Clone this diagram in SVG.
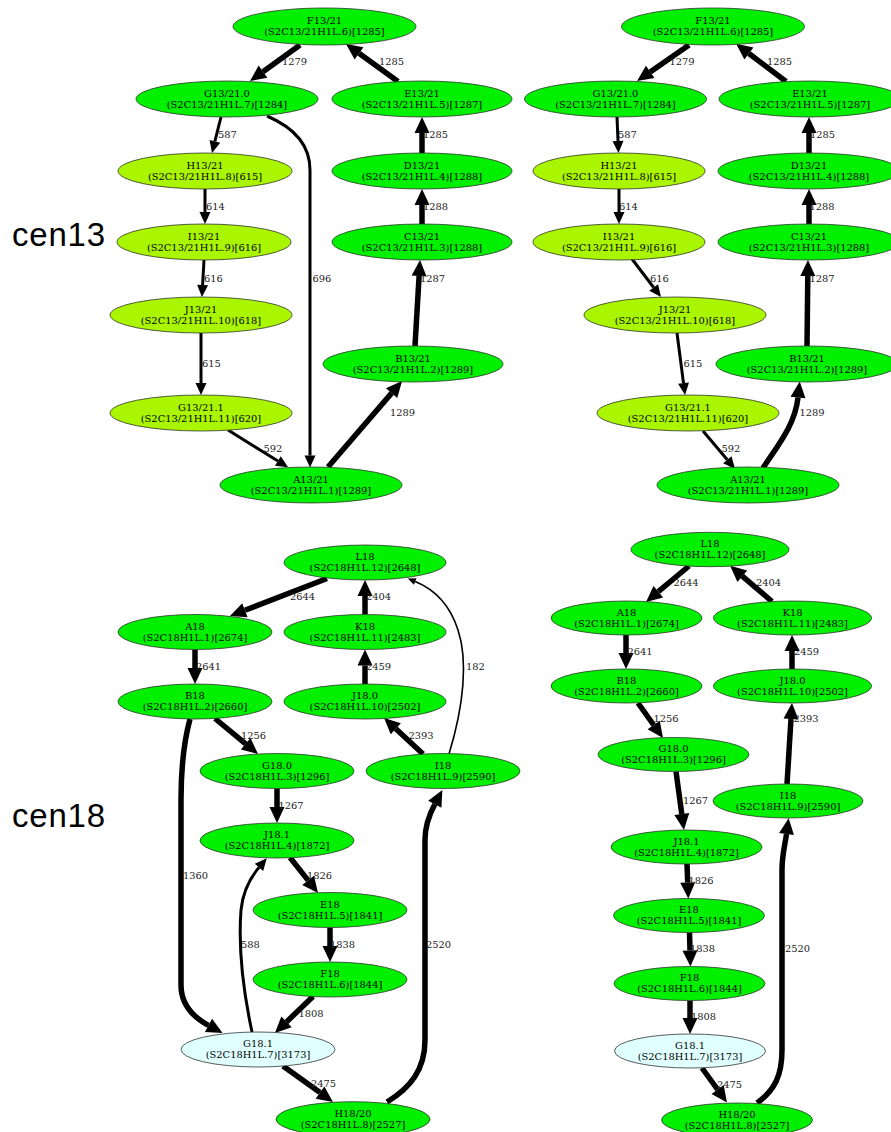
<svg xmlns="http://www.w3.org/2000/svg" width="891" height="1132" viewBox="0 0 891 1132">
  <style>
    .nd ellipse { stroke: #333; stroke-width: 0.8; }
    .g { fill: #00f000; }
    .y { fill: #aaf500; }
    .c { fill: #e0ffff; }
    .nd text { font-family: "DejaVu Serif", "Liberation Serif", serif; font-size: 9.9px; fill: #000; text-anchor: middle; }
    .e path { fill: none; stroke: #000; }
    .w5 { stroke-width: 5.5; marker-end: url(#ah-l); }
    .w3 { stroke-width: 3; marker-end: url(#ah-m); }
    .w1 { stroke-width: 1.6; marker-end: url(#ah-s); }
    .lbl text { font-family: "DejaVu Serif", "Liberation Serif", serif; font-size: 9.9px; fill: #222; }
    .title { font-family: "Liberation Sans", Arial, sans-serif; font-size: 33px; fill: #000; letter-spacing: 0.8px; }
  </style>
  <defs>
    <marker id="ah-l" markerUnits="userSpaceOnUse" viewBox="0 -8 16 16" markerWidth="16" markerHeight="16" refX="0" refY="0" orient="auto" overflow="visible">
      <path d="M0,-7.5 L16,0 L0,7.5 z" fill="#000"/>
    </marker>
    <marker id="ah-m" markerUnits="userSpaceOnUse" viewBox="0 -6 12 12" markerWidth="12" markerHeight="12" refX="0" refY="0" orient="auto" overflow="visible">
      <path d="M0,-5.5 L12,0 L0,5.5 z" fill="#000"/>
    </marker>
    <marker id="ah-s" markerUnits="userSpaceOnUse" viewBox="0 -4 8 8" markerWidth="8" markerHeight="8" refX="0" refY="0" orient="auto" overflow="visible">
      <path d="M0,-3.5 L8,0 L0,3.5 z" fill="#000"/>
    </marker>
  </defs>
  <rect width="891" height="1132" fill="#fff"/>

  <text class="title" x="12" y="246">cen13</text>
  <text class="title" x="12" y="827">cen18</text>

  <!-- ===== cen13, left layout: connectors ===== -->
  <g id="edges-13a" class="e">
    <path class="w5" d="M300,45 L263,71.7"/>
    <path class="w5" d="M398,81.5 L359,53.3"/>
    <path class="w3" d="M221,117 L214.9,141.4"/>
    <path class="w3" d="M205,189 L205,212"/>
    <path class="w3" d="M204,260 L202.6,285"/>
    <path class="w3" d="M201,333 L201,383"/>
    <path class="w3" d="M228,430 L277.9,461"/>
    <path class="w3" d="M267,116 C295,128 310,145 310,170 L310,455.5"/>
    <path class="w5" d="M328,467 L391.6,393.1"/>
    <path class="w5" d="M415,346 L419.1,276"/>
    <path class="w5" d="M422,224 L422,205"/>
    <path class="w5" d="M422,153 L422,133"/>
  </g>
  <g class="lbl">
    <text x="282" y="65">1279</text>
    <text x="379" y="65">1285</text>
    <text x="218" y="137.5">587</text>
    <text x="206" y="209.5">614</text>
    <text x="423" y="137.5">1285</text>
    <text x="423" y="209.5">1288</text>
    <text x="204" y="281.5">616</text>
    <text x="312.5" y="281.5">696</text>
    <text x="420" y="281.5">1287</text>
    <text x="202" y="367">615</text>
    <text x="390" y="416">1289</text>
    <text x="263.5" y="452">592</text>
  </g>
  <!-- ===== cen13, left layout: nodes ===== -->
  <g id="n13a-F" class="nd"><ellipse class="g" cx="324.5" cy="26.5" rx="91.5" ry="18.5"/><text x="324.5" y="24">F13/21</text><text x="324.5" y="35">(S2C13/21H1L.6)[1285]</text></g>
  <g id="n13a-G0" class="nd"><ellipse class="g" cx="227" cy="99" rx="91" ry="18"/><text x="227" y="96.5">G13/21.0</text><text x="227" y="107.5">(S2C13/21H1L.7)[1284]</text></g>
  <g id="n13a-E" class="nd"><ellipse class="g" cx="422" cy="99" rx="90" ry="18"/><text x="422" y="96.5">E13/21</text><text x="422" y="107.5">(S2C13/21H1L.5)[1287]</text></g>
  <g id="n13a-H" class="nd"><ellipse class="y" cx="205" cy="171" rx="87" ry="18"/><text x="205" y="168.5">H13/21</text><text x="205" y="179.5">(S2C13/21H1L.8)[615]</text></g>
  <g id="n13a-D" class="nd"><ellipse class="g" cx="422" cy="171" rx="90" ry="18"/><text x="422" y="168.5">D13/21</text><text x="422" y="179.5">(S2C13/21H1L.4)[1288]</text></g>
  <g id="n13a-I" class="nd"><ellipse class="y" cx="204" cy="242" rx="87" ry="18"/><text x="204" y="239.5">I13/21</text><text x="204" y="250.5">(S2C13/21H1L.9)[616]</text></g>
  <g id="n13a-C" class="nd"><ellipse class="g" cx="422" cy="242" rx="90" ry="18"/><text x="422" y="239.5">C13/21</text><text x="422" y="250.5">(S2C13/21H1L.3)[1288]</text></g>
  <g id="n13a-J" class="nd"><ellipse class="y" cx="201" cy="315" rx="91" ry="18"/><text x="201" y="312.5">J13/21</text><text x="201" y="323.5">(S2C13/21H1L.10)[618]</text></g>
  <g id="n13a-B" class="nd"><ellipse class="g" cx="413" cy="364" rx="90" ry="18"/><text x="413" y="361.5">B13/21</text><text x="413" y="372.5">(S2C13/21H1L.2)[1289]</text></g>
  <g id="n13a-G1" class="nd"><ellipse class="y" cx="201" cy="413" rx="91" ry="18"/><text x="201" y="410.5">G13/21.1</text><text x="201" y="421.5">(S2C13/21H1L.11)[620]</text></g>
  <g id="n13a-A" class="nd"><ellipse class="g" cx="311" cy="485" rx="91" ry="18"/><text x="311" y="482.5">A13/21</text><text x="311" y="493.5">(S2C13/21H1L.1)[1289]</text></g>

  <!-- ===== cen13, right layout: connectors ===== -->
  <g id="edges-13b" class="e">
    <path class="w5" d="M689,45 L650.2,71.9"/>
    <path class="w5" d="M786,81.5 L748.9,53.5"/>
    <path class="w3" d="M617,117 L618,141"/>
    <path class="w3" d="M619,189 L619,212"/>
    <path class="w3" d="M632,259 L653.7,287.5"/>
    <path class="w3" d="M677,333 L683.5,383.1"/>
    <path class="w3" d="M703,431 L727.3,459.8"/>
    <path class="w5" d="M763,468 C778,445 795,425 798,397.5"/>
    <path class="w5" d="M807,346 L807.8,276"/>
    <path class="w5" d="M809,224 L809,205"/>
    <path class="w5" d="M809,153 L809,133"/>
  </g>
  <g class="lbl">
    <text x="669.5" y="65">1279</text>
    <text x="767" y="65">1285</text>
    <text x="618" y="137.5">587</text>
    <text x="810" y="137.5">1285</text>
    <text x="619" y="209.5">614</text>
    <text x="809.5" y="209.5">1288</text>
    <text x="650" y="281.5">616</text>
    <text x="809.5" y="281.5">1287</text>
    <text x="683.5" y="367">615</text>
    <text x="799.5" y="416">1289</text>
    <text x="721.5" y="452">592</text>
  </g>
  <!-- ===== cen13, right layout: nodes ===== -->
  <g id="n13b-F" class="nd"><ellipse class="g" cx="713" cy="26.5" rx="91.5" ry="18.5"/><text x="713" y="24">F13/21</text><text x="713" y="35">(S2C13/21H1L.6)[1285]</text></g>
  <g id="n13b-G0" class="nd"><ellipse class="g" cx="615.5" cy="99" rx="91" ry="18"/><text x="615.5" y="96.5">G13/21.0</text><text x="615.5" y="107.5">(S2C13/21H1L.7)[1284]</text></g>
  <g id="n13b-E" class="nd"><ellipse class="g" cx="810" cy="99" rx="91" ry="18"/><text x="810" y="96.5">E13/21</text><text x="810" y="107.5">(S2C13/21H1L.5)[1287]</text></g>
  <g id="n13b-H" class="nd"><ellipse class="y" cx="619" cy="171" rx="86" ry="18"/><text x="619" y="168.5">H13/21</text><text x="619" y="179.5">(S2C13/21H1L.8)[615]</text></g>
  <g id="n13b-D" class="nd"><ellipse class="g" cx="809" cy="171" rx="91" ry="18"/><text x="809" y="168.5">D13/21</text><text x="809" y="179.5">(S2C13/21H1L.4)[1288]</text></g>
  <g id="n13b-I" class="nd"><ellipse class="y" cx="619" cy="242" rx="86" ry="18"/><text x="619" y="239.5">I13/21</text><text x="619" y="250.5">(S2C13/21H1L.9)[616]</text></g>
  <g id="n13b-C" class="nd"><ellipse class="g" cx="809" cy="242" rx="91" ry="18"/><text x="809" y="239.5">C13/21</text><text x="809" y="250.5">(S2C13/21H1L.3)[1288]</text></g>
  <g id="n13b-J" class="nd"><ellipse class="y" cx="675" cy="315" rx="91" ry="18"/><text x="675" y="312.5">J13/21</text><text x="675" y="323.5">(S2C13/21H1L.10)[618]</text></g>
  <g id="n13b-B" class="nd"><ellipse class="g" cx="807" cy="364" rx="91" ry="18"/><text x="807" y="361.5">B13/21</text><text x="807" y="372.5">(S2C13/21H1L.2)[1289]</text></g>
  <g id="n13b-G1" class="nd"><ellipse class="y" cx="688" cy="413" rx="91" ry="18"/><text x="688" y="410.5">G13/21.1</text><text x="688" y="421.5">(S2C13/21H1L.11)[620]</text></g>
  <g id="n13b-A" class="nd"><ellipse class="g" cx="748" cy="485" rx="91" ry="18"/><text x="748" y="482.5">A13/21</text><text x="748" y="493.5">(S2C13/21H1L.1)[1289]</text></g>

  <!-- ===== cen18, left layout: connectors ===== -->
  <g id="edges-18a" class="e">
    <path class="w5" d="M327,578.5 L244.9,610.3"/>
    <path class="w5" d="M365,614.5 L365,596"/>
    <path class="w5" d="M195,649.5 L195,668"/>
    <path class="w5" d="M365,684 L365,665.5"/>
    <path class="w5" d="M215,718.5 L245.7,743.8"/>
    <path class="w5" d="M423,754 L395.8,728.8"/>
    <path class="w1" d="M449,754 C464,705 468,660 458,630 C450,605 436,590 415.2,581.5"/>
    <path class="w5" d="M277,788.5 L277,807"/>
    <path class="w5" d="M190,719 C183,745 181,770 181,800 L181,985 C181,1005 193,1017 208.5,1025.4"/>
    <path class="w5" d="M290,857.5 L308.1,880.4"/>
    <path class="w3" d="M252,1032 C243,990 238,950 241,910 C243,890 250,878 259,867.4"/>
    <path class="w5" d="M330,927.5 L330,946"/>
    <path class="w5" d="M313,996.5 L286.5,1021.9"/>
    <path class="w5" d="M283,1066 L320,1092.6"/>
    <path class="w5" d="M387,1102 C410,1088 425,1070 425,1040 L425,840 C425,825 429,815 434.8,804.2"/>
  </g>
  <g class="lbl">
    <text x="290" y="600">2644</text>
    <text x="366" y="600">2404</text>
    <text x="466" y="670">182</text>
    <text x="196" y="670">2641</text>
    <text x="366" y="670">2459</text>
    <text x="241" y="739">1256</text>
    <text x="408.5" y="739">2393</text>
    <text x="278.5" y="809">1267</text>
    <text x="183" y="878.5">1360</text>
    <text x="307" y="878.5">1826</text>
    <text x="241" y="947.5">588</text>
    <text x="330" y="947.5">1838</text>
    <text x="426" y="947.5">2520</text>
    <text x="298.5" y="1017">1808</text>
    <text x="311" y="1086.5">2475</text>
  </g>
  <!-- ===== cen18, left layout: nodes ===== -->
  <g id="n18a-L" class="nd"><ellipse class="g" cx="365" cy="562.5" rx="81" ry="17.5"/><text x="365" y="560">L18</text><text x="365" y="571">(S2C18H1L.12)[2648]</text></g>
  <g id="n18a-A" class="nd"><ellipse class="g" cx="195" cy="632" rx="77" ry="17.5"/><text x="195" y="629.5">A18</text><text x="195" y="640.5">(S2C18H1L.1)[2674]</text></g>
  <g id="n18a-K" class="nd"><ellipse class="g" cx="365" cy="632" rx="81" ry="17.5"/><text x="365" y="629.5">K18</text><text x="365" y="640.5">(S2C18H1L.11)[2483]</text></g>
  <g id="n18a-B" class="nd"><ellipse class="g" cx="195" cy="701.5" rx="77" ry="17.5"/><text x="195" y="699">B18</text><text x="195" y="710">(S2C18H1L.2)[2660]</text></g>
  <g id="n18a-J0" class="nd"><ellipse class="g" cx="365" cy="701.5" rx="81" ry="17.5"/><text x="365" y="699">J18.0</text><text x="365" y="710">(S2C18H1L.10)[2502]</text></g>
  <g id="n18a-G0" class="nd"><ellipse class="g" cx="277" cy="771" rx="77" ry="17.5"/><text x="277" y="768.5">G18.0</text><text x="277" y="779.5">(S2C18H1L.3)[1296]</text></g>
  <g id="n18a-I" class="nd"><ellipse class="g" cx="443" cy="771" rx="77" ry="17.5"/><text x="443" y="768.5">I18</text><text x="443" y="779.5">(S2C18H1L.9)[2590]</text></g>
  <g id="n18a-J1" class="nd"><ellipse class="g" cx="277" cy="840.5" rx="77" ry="17.5"/><text x="277" y="838">J18.1</text><text x="277" y="849">(S2C18H1L.4)[1872]</text></g>
  <g id="n18a-E" class="nd"><ellipse class="g" cx="330" cy="910" rx="77" ry="17.5"/><text x="330" y="907.5">E18</text><text x="330" y="918.5">(S2C18H1L.5)[1841]</text></g>
  <g id="n18a-F" class="nd"><ellipse class="g" cx="330" cy="979.5" rx="77" ry="17.5"/><text x="330" y="977">F18</text><text x="330" y="988">(S2C18H1L.6)[1844]</text></g>
  <g id="n18a-G1" class="nd"><ellipse class="c" cx="258" cy="1049.5" rx="77" ry="17.5"/><text x="258" y="1047">G18.1</text><text x="258" y="1058">(S2C18H1L.7)[3173]</text></g>
  <g id="n18a-H" class="nd"><ellipse class="g" cx="353" cy="1119.2" rx="77" ry="17.5"/><text x="353" y="1116.7">H18/20</text><text x="353" y="1127.7">(S2C18H1L.8)[2527]</text></g>

  <!-- ===== cen18, right layout: connectors ===== -->
  <g id="edges-18b" class="e">
    <path class="w5" d="M689,566 L658.3,591.7"/>
    <path class="w5" d="M772,601.5 L742.3,576.2"/>
    <path class="w5" d="M626,635 L626,653"/>
    <path class="w5" d="M792,669 L792,651"/>
    <path class="w5" d="M638,703 L653.7,725"/>
    <path class="w5" d="M787,784 L791,719"/>
    <path class="w5" d="M676,771.5 L681.8,814.1"/>
    <path class="w5" d="M687,864 L687.7,882.5"/>
    <path class="w5" d="M689.5,932.5 L690,950.5"/>
    <path class="w5" d="M690,1000.5 L690,1018"/>
    <path class="w5" d="M702,1068 L717.6,1089.5"/>
    <path class="w5" d="M757,1103 C775,1090 782,1075 782,1050 L782,870 C782,855 785,845 786.5,834"/>
  </g>
  <g class="lbl">
    <text x="673.5" y="586">2644</text>
    <text x="756" y="586">2404</text>
    <text x="627.5" y="654.5">2641</text>
    <text x="794" y="654.5">2459</text>
    <text x="653.5" y="722">1256</text>
    <text x="793.5" y="722">2393</text>
    <text x="683" y="803.5">1267</text>
    <text x="688.5" y="883.5">1826</text>
    <text x="690" y="951.5">1838</text>
    <text x="785" y="951.5">2520</text>
    <text x="691" y="1019.5">1808</text>
    <text x="717" y="1087.5">2475</text>
  </g>
  <!-- ===== cen18, right layout: nodes ===== -->
  <g id="n18b-L" class="nd"><ellipse class="g" cx="710" cy="549.5" rx="79" ry="17.2"/><text x="710" y="547">L18</text><text x="710" y="558">(S2C18H1L.12)[2648]</text></g>
  <g id="n18b-A" class="nd"><ellipse class="g" cx="626.5" cy="618" rx="75.5" ry="17"/><text x="626.5" y="615.5">A18</text><text x="626.5" y="626.5">(S2C18H1L.1)[2674]</text></g>
  <g id="n18b-K" class="nd"><ellipse class="g" cx="792.5" cy="618" rx="79" ry="17"/><text x="792.5" y="615.5">K18</text><text x="792.5" y="626.5">(S2C18H1L.11)[2483]</text></g>
  <g id="n18b-B" class="nd"><ellipse class="g" cx="626.5" cy="686" rx="75.5" ry="17"/><text x="626.5" y="683.5">B18</text><text x="626.5" y="694.5">(S2C18H1L.2)[2660]</text></g>
  <g id="n18b-J0" class="nd"><ellipse class="g" cx="792.5" cy="686" rx="79" ry="17"/><text x="792.5" y="683.5">J18.0</text><text x="792.5" y="694.5">(S2C18H1L.10)[2502]</text></g>
  <g id="n18b-G0" class="nd"><ellipse class="g" cx="673.5" cy="754.5" rx="75.5" ry="17"/><text x="673.5" y="752">G18.0</text><text x="673.5" y="763">(S2C18H1L.3)[1296]</text></g>
  <g id="n18b-I" class="nd"><ellipse class="g" cx="788" cy="801" rx="75" ry="17"/><text x="788" y="798.5">I18</text><text x="788" y="809.5">(S2C18H1L.9)[2590]</text></g>
  <g id="n18b-J1" class="nd"><ellipse class="g" cx="686.5" cy="847" rx="75.5" ry="17"/><text x="686.5" y="844.5">J18.1</text><text x="686.5" y="855.5">(S2C18H1L.4)[1872]</text></g>
  <g id="n18b-E" class="nd"><ellipse class="g" cx="689" cy="915.5" rx="75.5" ry="17"/><text x="689" y="913">E18</text><text x="689" y="924">(S2C18H1L.5)[1841]</text></g>
  <g id="n18b-F" class="nd"><ellipse class="g" cx="689.5" cy="983.5" rx="75.5" ry="17"/><text x="689.5" y="981">F18</text><text x="689.5" y="992">(S2C18H1L.6)[1844]</text></g>
  <g id="n18b-G1" class="nd"><ellipse class="c" cx="690" cy="1051" rx="75.5" ry="17"/><text x="690" y="1048.5">G18.1</text><text x="690" y="1059.5">(S2C18H1L.7)[3173]</text></g>
  <g id="n18b-H" class="nd"><ellipse class="g" cx="737" cy="1120" rx="75.5" ry="17"/><text x="737" y="1117.5">H18/20</text><text x="737" y="1128.5">(S2C18H1L.8)[2527]</text></g>
</svg>
